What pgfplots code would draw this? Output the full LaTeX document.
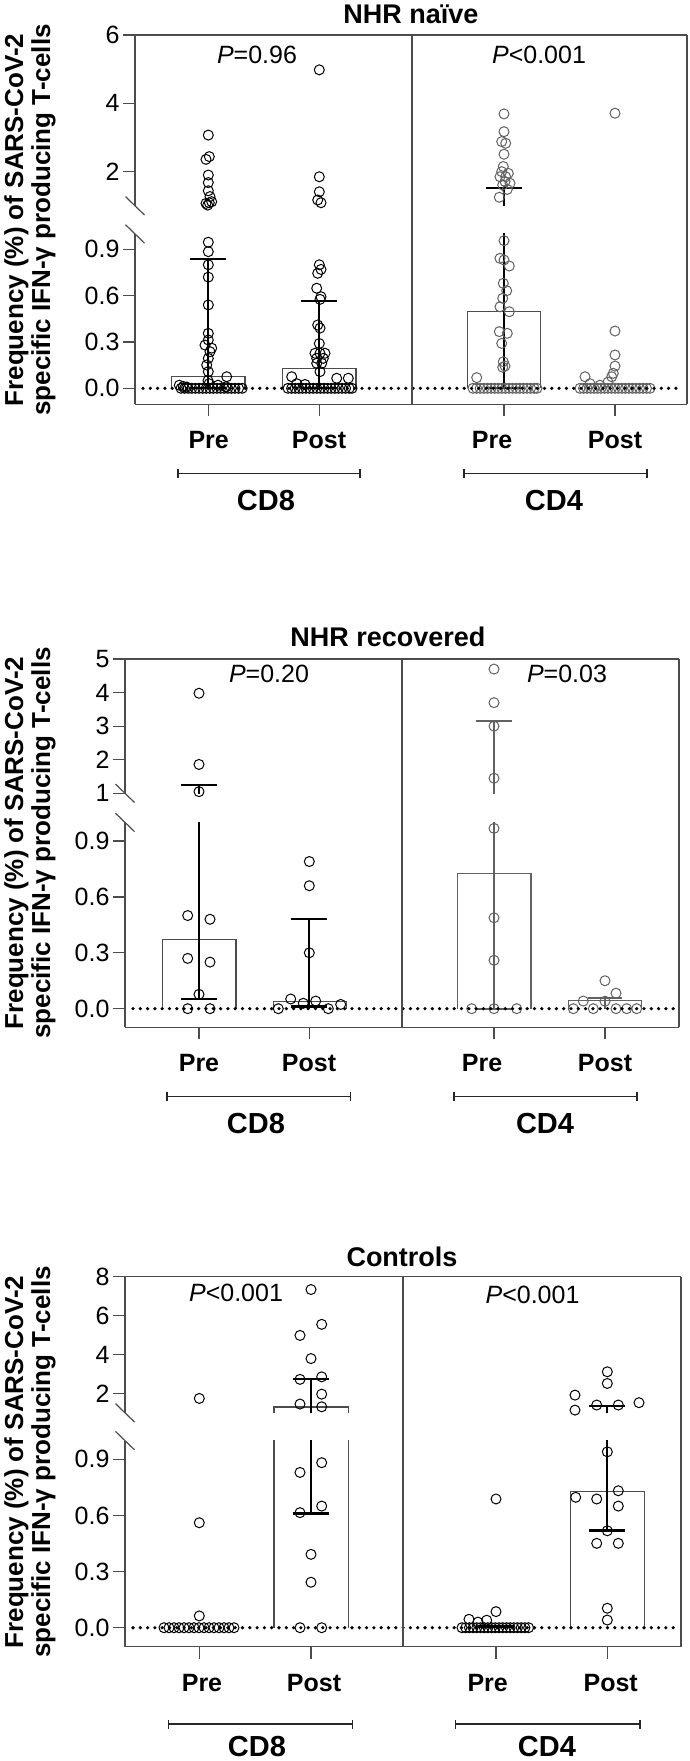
\documentclass[border=0pt]{standalone}
\usepackage{fontspec}
\setmainfont{Liberation Sans}
\usepackage{pgfplots}
\pgfplotsset{compat=1.18}

\definecolor{frame}{gray}{0.3}
\definecolor{cdgray}{gray}{0.38}

\tikzset{
  zero/.style={line width=3.6pt, line cap=round, dash pattern=on 0pt off 7.3pt},
  edge/.style={draw=frame, line width=1.2pt},
  brace/.style={draw=black!85, line width=1.2pt},
  ttl/.style={font=\fontsize{27}{27}\selectfont\bfseries},
  pv/.style={font=\fontsize{25}{25}\selectfont},
  cat/.style={font=\fontsize{25}{25}\selectfont\bfseries},
  grp/.style={font=\fontsize{29}{29}\selectfont\bfseries},
  ylab/.style={font=\fontsize{26}{27}\selectfont\bfseries, rotate=90, align=center},
}
\pgfplotsset{
  seg/.style={scale only axis, clip mode=individual, anchor=south west,
    axis y line*=left,
    axis line style={draw=frame, line width=1.2pt},
    tick style={draw=frame, line width=1.2pt},
    major tick length=12pt, tick align=outside,
    yticklabel style={font=\fontsize{25}{25}\selectfont},
    /pgf/number format/assume math mode=true},
  lowseg/.style={seg, axis x line*=bottom, ymax=1, ytick={0,0.3,0.6,0.9},
    yticklabel style={/pgf/number format/fixed, /pgf/number format/fixed zerofill,
      /pgf/number format/precision=1},
    xticklabels={}},
  upseg/.style={seg, axis x line*=top, ymin=1, xtick=\empty},
  dots/.style={only marks, mark=o, mark size=5pt, mark options={line width=1pt}},
  barl/.style={draw=frame, line width=1.2pt},
  errl/.style={line width=2.3pt},
}

\begin{document}
\begin{tikzpicture}

% ================= Panel 1: NHR naive =================
\begin{axis}[lowseg, at={(135pt,-404.3pt)}, width=552pt, height=170.4pt,
  xmin=135, xmax=687, ymin=-0.1036, xtick={208.3,319.3,504,615}]
\addplot[barl] coordinates {(171.6,0)(171.6,0.075)(245,0.075)(245,0)};
\addplot[barl] coordinates {(282.6,0)(282.6,0.13)(356,0.13)(356,0)};
\addplot[barl] coordinates {(467.3,0)(467.3,0.496)(540.7,0.496)(540.7,0)};
\addplot[errl] coordinates {(208.3,0)(208.3,0.837)};
\addplot[errl] coordinates {(190.3,0.837)(226.3,0.837)};
\addplot[errl] coordinates {(190.3,0)(226.3,0)};
\addplot[errl] coordinates {(319.3,0)(319.3,0.565)};
\addplot[errl] coordinates {(301.3,0.565)(337.3,0.565)};
\addplot[errl] coordinates {(301.3,0)(337.3,0)};
\addplot[errl] coordinates {(504,0)(504,1.52)};
\addplot[errl] coordinates {(486,0)(522,0)};
\addplot[dots, black] coordinates {
(208.3,0.946)(208.3,0.885)(208.3,0.80)(208.3,0.72)(208.3,0.54)(208.3,0.356)
(208.3,0.313)(205,0.28)(211.7,0.26)(210,0.237)(208.3,0.194)(206.7,0.151)
(208.3,0.108)(226.7,0.075)(208,0.05)(209,0.03)(179.3,0.02)(183.3,0.012)
(186.7,0.008)(218,0.02)(226,0.01)
(181,0)(184.6,0)(188.2,0)(191.8,0)(195.4,0)(199,0)(202.6,0)(206.2,0)(209.8,0)
(213.4,0)(217,0)(220.6,0)(224.2,0)(227.8,0)(231.4,0)(235,0)(238.6,0)(242.2,0)};
\addplot[dots, black] coordinates {
(319.3,0.80)(321,0.77)(317.7,0.745)(316.7,0.648)(321,0.593)(320,0.576)
(317.7,0.41)(320,0.39)(319.3,0.29)(315,0.227)(320,0.227)(325,0.227)
(316.7,0.194)(323.3,0.194)(316.7,0.162)(321.7,0.162)(320,0.108)(291.7,0.075)
(336.7,0.065)(348.3,0.065)(296.7,0.03)(305,0.025)
(288,0)(291.6,0)(295.2,0)(298.8,0)(302.4,0)(306,0)(309.6,0)(313.2,0)(316.8,0)
(320.4,0)(324,0)(327.6,0)(331.2,0)(334.8,0)(338.4,0)(342,0)(345.6,0)(349.2,0)(352,0)};
\addplot[dots, cdgray] coordinates {
(504,0.956)(500,0.842)(504,0.831)(509.3,0.792)(503.3,0.68)(506.7,0.632)
(502.7,0.583)(500,0.528)(509.3,0.496)(499.3,0.367)(507.3,0.356)(501.7,0.291)
(503.3,0.172)(505,0.144)(502.7,0.136)(476.7,0.069)
(473,0)(476.6,0)(480.2,0)(483.8,0)(487.4,0)(491,0)(494.6,0)(498.2,0)(501.8,0)
(505.4,0)(509,0)(512.6,0)(516.2,0)(519.8,0)(523.4,0)(527,0)(530.6,0)(534.2,0)(537,0)};
\addplot[dots, cdgray] coordinates {
(615,0.371)(615,0.216)(615,0.144)(613.3,0.097)(611.7,0.075)(585,0.075)
(608,0.04)(590,0.03)(600,0.02)
(580,0)(583.5,0)(587,0)(590.5,0)(594,0)(597.5,0)(601,0)(604.5,0)(608,0)(611.5,0)
(615,0)(618.5,0)(622,0)(625.5,0)(629,0)(632.5,0)(636,0)(639.5,0)(643,0)(646.5,0)(650,0)};
\draw[zero] (axis cs:143,0) -- (axis cs:681,0);
\end{axis}

\begin{axis}[upseg, at={(135pt,-205.8pt)}, width=552pt, height=170.8pt,
  xmin=135, xmax=687, ymax=6, ytick={2,4,6}]
\addplot[errl] coordinates {(504,0)(504,1.52)};
\addplot[errl] coordinates {(486,1.52)(522,1.52)};
\addplot[dots, black] coordinates {
(208.3,3.07)(206,2.36)(209.3,2.44)(208.3,1.90)(208.3,1.68)(208.3,1.44)(210,1.27)
(206,1.07)(209.3,1.09)(211.7,1.12)(207.7,1.02)};
\addplot[dots, black] coordinates {
(319.3,4.98)(319.3,1.85)(319.3,1.41)(317.7,1.17)(321,1.09)};
\addplot[dots, cdgray] coordinates {
(504,3.69)(504,3.17)(501.7,2.88)(505.7,2.83)(504,2.51)(503.3,2.15)(501.7,2.0)
(508.3,1.95)(500,1.85)(505.7,1.85)(505,1.71)(510,1.66)(502.7,1.61)(507.3,1.48)(499.3,1.25)};
\addplot[dots, cdgray] coordinates {(615,3.71)};
\end{axis}

% ================= Panel 2: NHR recovered =================
\begin{axis}[lowseg, at={(125pt,-1027.3pt)}, width=554pt, height=204.9pt,
  xmin=125, xmax=679, ymin=-0.1, xtick={199,309.3,494,605}]
\addplot[barl] coordinates {(162.3,0)(162.3,0.372)(236,0.372)(236,0)};
\addplot[barl] coordinates {(273.3,0)(273.3,0.038)(346.7,0.038)(346.7,0)};
\addplot[barl, cdgray] coordinates {(457.3,0)(457.3,0.727)(531,0.727)(531,0)};
\addplot[barl, cdgray] coordinates {(568.3,0)(568.3,0.045)(641.7,0.045)(641.7,0)};
\addplot[errl] coordinates {(199,0.052)(199,1.25)};
\addplot[errl] coordinates {(181,0.052)(217,0.052)};
\addplot[errl] coordinates {(309.3,0.011)(309.3,0.48)};
\addplot[errl] coordinates {(291.3,0.48)(327.3,0.48)};
\addplot[errl] coordinates {(291.3,0.011)(327.3,0.011)};
\addplot[errl, cdgray] coordinates {(494,0)(494,3.16)};
\addplot[errl, cdgray] coordinates {(476,0)(512,0)};
\addplot[errl, cdgray] coordinates {(605,0)(605,0.059)};
\addplot[errl, cdgray] coordinates {(588,0.059)(622,0.059)};
\addplot[dots, black] coordinates {
(187.7,0.50)(210,0.48)(187.7,0.27)(210,0.25)(199,0.077)(187.7,0)(210,0)};
\addplot[dots, black] coordinates {
(309.3,0.79)(309.3,0.66)(309.3,0.30)(290.7,0.052)(303.3,0.029)(315.7,0.041)
(340.7,0.023)(278.3,0)(328.3,0)};
\addplot[dots, cdgray] coordinates {
(494,0.968)(494,0.488)(494,0.26)(471.7,0)(494,0)(516.7,0)};
\addplot[dots, cdgray] coordinates {
(605,0.15)(616,0.083)(583.3,0.041)(605,0.04)(573.3,0)(593.3,0)(616,0)(626.7,0)(636.7,0)};
\draw[zero] (axis cs:133,0) -- (axis cs:675,0);
\end{axis}

\begin{axis}[upseg, at={(125pt,-793.3pt)}, width=554pt, height=134.3pt,
  xmin=125, xmax=679, ymax=5, ytick={1,2,3,4,5}]
\addplot[errl] coordinates {(199,0.052)(199,1.25)};
\addplot[errl] coordinates {(181,1.25)(217,1.25)};
\addplot[errl, cdgray] coordinates {(494,0)(494,3.16)};
\addplot[errl, cdgray] coordinates {(476,3.16)(512,3.16)};
\addplot[dots, black] coordinates {(199,3.98)(199,1.86)(199,1.05)};
\addplot[dots, cdgray] coordinates {(494,4.70)(494,3.70)(494,3.0)(494,1.45)};
\end{axis}

% ================= Panel 3: Controls =================
\begin{axis}[lowseg, at={(125pt,-1646.7pt)}, width=556pt, height=206.1pt,
  xmin=125, xmax=681, ymin=-0.1016, xtick={199.3,311,496,607.3}]
\addplot[barl] coordinates {(274,0)(274,1.30)(348.7,1.30)(348.7,0)};
\addplot[barl] coordinates {(570.7,0)(570.7,0.727)(644.3,0.727)(644.3,0)};
\addplot[errl] coordinates {(311,0.61)(311,2.75)};
\addplot[errl] coordinates {(293,0.61)(329,0.61)};
\addplot[errl] coordinates {(478,0.006)(514,0.006)};
\addplot[errl] coordinates {(607.3,0.52)(607.3,1.36)};
\addplot[errl] coordinates {(589.3,0.52)(625.3,0.52)};
\addplot[dots, black] coordinates {
(199.3,0.561)(199.3,0.063)
(164,0)(169,0)(174,0)(179,0)(184,0)(189,0)(194,0)(199,0)(204,0)(209,0)(214,0)
(219,0)(224,0)(229,0)(234,0)};
\addplot[dots, black] coordinates {
(321.7,0.882)(300,0.83)(321.7,0.65)(300,0.615)(311,0.392)(311,0.243)(300,0)(321.7,0)};
\addplot[dots, black] coordinates {
(496,0.688)(496,0.086)(469,0.045)(478,0.03)(486.7,0.04)
(462,0)(465.7,0)(469.4,0)(473.1,0)(476.8,0)(480.5,0)(484.2,0)(487.9,0)(491.6,0)
(495.3,0)(499,0)(502.7,0)(506.4,0)(510.1,0)(513.8,0)(517.5,0)(521.2,0)(524.9,0)(528.6,0)};
\addplot[dots, black] coordinates {
(607.3,0.94)(618.3,0.732)(575.7,0.697)(596.7,0.688)(618.3,0.65)(607.3,0.518)
(596.7,0.451)(618.3,0.451)(607.3,0.104)(607.3,0.041)};
\draw[zero] (axis cs:133,0) -- (axis cs:677,0);
\end{axis}

\begin{axis}[upseg, at={(125pt,-1412.8pt)}, width=556pt, height=136.1pt,
  xmin=125, xmax=681, ymax=8, ytick={2,4,6,8}]
\addplot[barl] coordinates {(274,0)(274,1.30)(348.7,1.30)(348.7,0)};
\addplot[errl] coordinates {(311,0.61)(311,2.75)};
\addplot[errl] coordinates {(293,2.75)(329,2.75)};
\addplot[errl] coordinates {(607.3,0.52)(607.3,1.36)};
\addplot[errl] coordinates {(589.3,1.36)(625.3,1.36)};
\addplot[dots, black] coordinates {(199.3,1.74)};
\addplot[dots, black] coordinates {
(311,7.34)(321.7,5.55)(300,4.98)(311,3.79)(300,2.72)(321.7,2.85)(321.7,1.96)
(300,1.45)(321.7,1.31)};
\addplot[dots, black] coordinates {
(607.3,3.11)(607.3,2.51)(575,1.91)(575,1.14)(596.7,1.40)(618.3,1.40)(639,1.52)};
\end{axis}

% ================= frames, labels, brackets =================
\begin{scope}[x=1pt, y=1pt]
% panel 1
\draw[edge] (687,-35) -- (687,-404.3);
\draw[edge] (412,-35) -- (412,-404.3);
\draw[edge] (125.5,-196.6) -- (144.5,-215);
\draw[edge] (125.5,-224.7) -- (144.5,-243.1);
\node[ttl] at (411,-14) {NHR naïve};
\node[pv] at (257,-55) {\textit{P}=0.96};
\node[pv] at (539,-55) {\textit{P}<0.001};
\node[cat] at (208.7,-440) {Pre};
\node[cat] at (319,-440) {Post};
\node[cat] at (492,-440) {Pre};
\node[cat] at (615,-440) {Post};
\draw[brace] (178,-469) -- (178,-478) (178,-473.3) -- (360,-473.3) (360,-469) -- (360,-478);
\draw[brace] (464,-469) -- (464,-478) (464,-473.3) -- (647,-473.3) (647,-469) -- (647,-478);
\node[grp] at (266,-501) {CD8};
\node[grp] at (554,-501) {CD4};
\node[ylab] at (30,-220) {Frequency (\%) of SARS-CoV-2\\specific IFN-γ producing T-cells};
% panel 2
\draw[edge] (679,-659) -- (679,-1027.3);
\draw[edge] (402,-659) -- (402,-1027.3);
\draw[edge] (115.5,-784.1) -- (134.5,-802.5);
\draw[edge] (115.5,-813.2) -- (134.5,-831.6);
\node[ttl] at (388,-637) {NHR recovered};
\node[pv] at (269,-674) {\textit{P}=0.20};
\node[pv] at (567,-674) {\textit{P}=0.03};
\node[cat] at (199,-1063) {Pre};
\node[cat] at (309,-1063) {Post};
\node[cat] at (482,-1063) {Pre};
\node[cat] at (605,-1063) {Post};
\draw[brace] (167,-1092.4) -- (167,-1101.4) (167,-1096.7) -- (350.6,-1096.7) (350.6,-1092.4) -- (350.6,-1101.4);
\draw[brace] (454,-1092.4) -- (454,-1101.4) (454,-1096.7) -- (637,-1096.7) (637,-1092.4) -- (637,-1101.4);
\node[grp] at (256,-1124) {CD8};
\node[grp] at (545,-1124) {CD4};
\node[ylab] at (30,-843) {Frequency (\%) of SARS-CoV-2\\specific IFN-γ producing T-cells};
% panel 3
\draw[edge] (681,-1276.7) -- (681,-1646.7);
\draw[edge] (403,-1276.7) -- (403,-1646.7);
\draw[edge] (115.5,-1403.6) -- (134.5,-1422);
\draw[edge] (115.5,-1431.4) -- (134.5,-1449.8);
\node[ttl] at (402,-1256.7) {Controls};
\node[pv] at (236,-1293) {\textit{P}<0.001};
\node[pv] at (532.5,-1295) {\textit{P}<0.001};
\node[cat] at (202,-1682.7) {Pre};
\node[cat] at (314,-1682.7) {Post};
\node[cat] at (487.7,-1682.7) {Pre};
\node[cat] at (610.7,-1682.7) {Post};
\draw[brace] (168.7,-1719.7) -- (168.7,-1728.7) (168.7,-1724) -- (352.4,-1724) (352.4,-1719.7) -- (352.4,-1728.7);
\draw[brace] (455.6,-1719.7) -- (455.6,-1728.7) (455.6,-1724) -- (640,-1724) (640,-1719.7) -- (640,-1728.7);
\node[grp] at (257,-1746) {CD8};
\node[grp] at (547,-1746) {CD4};
\node[ylab] at (30,-1462) {Frequency (\%) of SARS-CoV-2\\specific IFN-γ producing T-cells};
\pgfresetboundingbox
\path (0,0) rectangle (689,-1761);
\end{scope}
\end{tikzpicture}
\end{document}
